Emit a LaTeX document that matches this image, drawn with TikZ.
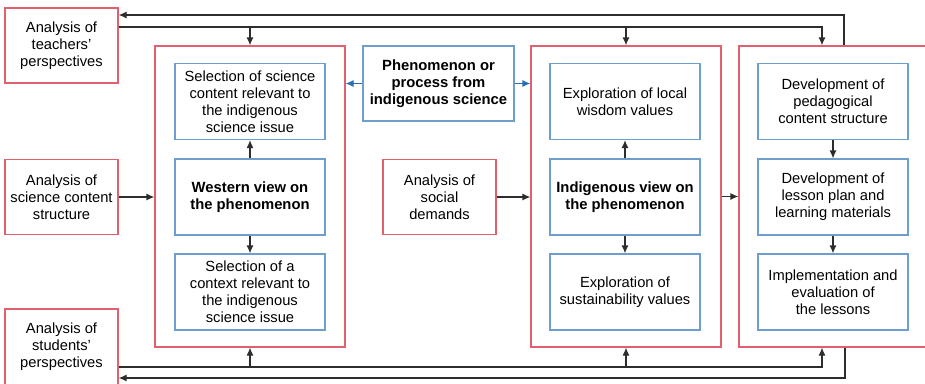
\documentclass[tikz,border=0pt]{standalone}
\usepackage{fontspec}
\setmainfont{Liberation Sans}
\usetikzlibrary{positioning}
\usetikzlibrary{arrows.meta}
\definecolor{boxred}{RGB}{224,96,112}
\definecolor{boxblue}{RGB}{110,158,205}
\definecolor{arrowblue}{RGB}{40,110,180}
\definecolor{linegray}{RGB}{45,45,45}
\tikzset{
    outer/.style = {rectangle,draw=boxred,line width=1.2pt,inner sep=0pt,align=center},
    inner/.style = {rectangle,draw=boxblue,line width=1.2pt,inner sep=0pt,align=center,minimum width=150pt,minimum height=76pt},
    heavy/.style = {font=\fontsize{14.8}{17}\selectfont\bfseries},
    source/.style = {outer,minimum width=113pt,minimum height=75pt},
    frame/.style = {outer,minimum width=190pt,minimum height=301pt},
    flow/.style = {draw=linegray,line width=1.2pt,-{Latex[length=8pt,width=7pt]}},
    link/.style = {draw=arrowblue,line width=1.2pt,-{Latex[length=8pt,width=7pt]}}}
\begin{document}
\begin{tikzpicture}[x=1pt,y=-1pt,font=\fontsize{14.7}{17}\selectfont]
        \useasboundingbox (0,0) rectangle (925,383);
        % analysis boxes
        \node[source] (T) at (61.5,45.5) {Analysis of\\teachers'\\perspectives};
        \node[source] (C) at (61.5,197) {Analysis of\\science content\\structure};
        \node[source,minimum height=76pt] (S) at (61.5,347) {Analysis of\\students'\\perspectives};
        \node[source] (D) at (439.5,197) {Analysis of\\social\\demands};
        % frames
        \node[frame] (W) at (250,196.5) {};
        \node[frame] (I) at (626,196.5) {};
        \node[frame,minimum width=192pt] (P) at (835,196.5) {};
        % inner boxes
        \node[inner,heavy,minimum width=151pt,minimum height=75pt] (F) at (438.5,83.5) {Phenomenon or\\process from\\indigenous science};
        \node[inner] (W1) at (250,101.5) {Selection of science\\content relevant to\\the indigenous\\science issue};
        \node[inner,heavy] (W2) at (250,197) {Western view on\\the phenomenon};
        \node[inner] (W3) at (250,292) {Selection of a\\context relevant to\\the indigenous\\science issue};
        \node[inner] (I1) at (625,101.5) {Exploration of local\\wisdom values};
        \node[inner,heavy] (I2) at (625,197) {Indigenous view on\\the phenomenon};
        \node[inner] (I3) at (625,292) {Exploration of\\sustainability values};
        \node[inner] (P1) at (833,101.5) {Development of\\pedagogical\\content structure};
        \node[inner] (P2) at (833,197) {Development of\\lesson plan and\\learning materials};
        \node[inner] (P3) at (833,292) {Implementation and\\evaluation of\\the lessons};
        \draw[flow] (W2) -- (W1); \draw[flow] (W2) -- (W3);
        \draw[flow] (I2) -- (I1); \draw[flow] (I2) -- (I3);
        \draw[flow] (P1) -- (P2); \draw[flow] (P2) -- (P3);
        \draw[link] (F.west) -- (F.west -| W.east);
        \draw[link] (F.east) -- (F.east -| I.west);
        \draw[flow] (C.east) -- (C.east -| W.west);
        \draw[flow] (D.east) -- (D.east -| I.west);
        \draw[flow] (I) -- (P);
        % feedback runs
        \coordinate (tr) at (844,15);
        \coordinate (ti) at (822,27);
        \coordinate (bi) at (822,367);
        \coordinate (br) at (845,378);
        \draw[flow] (P.north -| tr) -- (tr) -- (tr -| T.east);
        \draw[flow] (ti -| T.east) -- (ti) -- (ti |- P.north);
        \draw[flow] (W.north |- ti) -- (W.north); \draw[flow] (I.north |- ti) -- (I.north);
        \draw[flow] (bi -| S.east) -- (bi) -- (bi |- P.south);
        \draw[flow] (W.south |- bi) -- (W.south); \draw[flow] (I.south |- bi) -- (I.south);
        \draw[flow] (P.south -| br) -- (br) -- (br -| S.east);
    \end{tikzpicture}
\end{document}
